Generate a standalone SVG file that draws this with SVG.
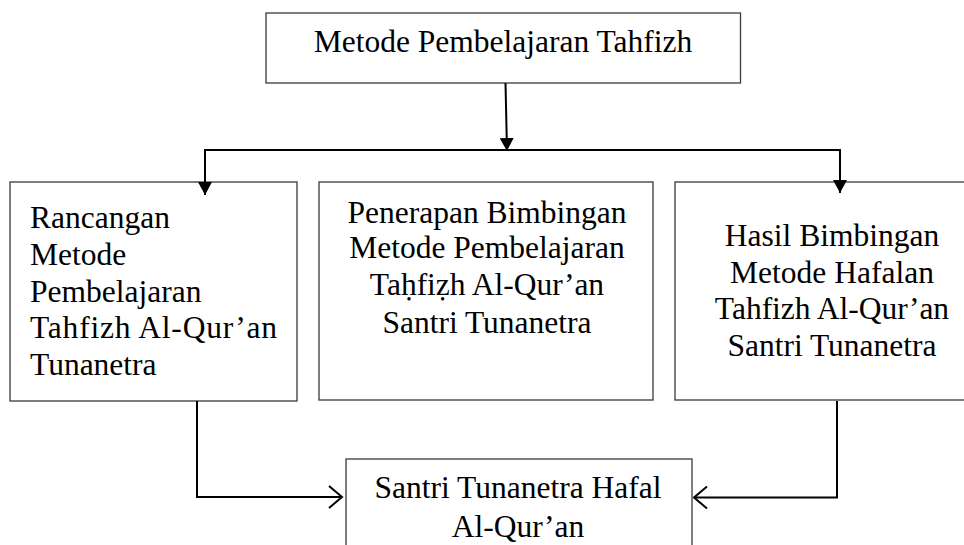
<svg xmlns="http://www.w3.org/2000/svg" width="964" height="545" viewBox="0 0 964 545">
<style>
.box{fill:#fff;stroke:#3a3a3a;stroke-width:1.3}
.t{font-family:"Liberation Serif","DejaVu Serif",serif;font-size:31.5px;fill:#000}
.c{text-anchor:middle}
.ln{fill:none;stroke:#000;stroke-width:2}
</style>
<defs>
<marker id="fill" markerWidth="16" markerHeight="14" refX="13" refY="7" orient="auto" markerUnits="userSpaceOnUse">
<path d="M0,0 L13,7 L0,14 Z" fill="#000"/>
</marker>
<marker id="open" markerWidth="16" markerHeight="24" refX="14" refY="12" orient="auto" markerUnits="userSpaceOnUse">
<path d="M1,1 L14,12 L1,23" fill="none" stroke="#000" stroke-width="2"/>
</marker>
</defs>
<rect width="964" height="545" fill="#fff"/>
<g id="top">
<rect class="box" x="266" y="13" width="474.5" height="70"/>
<text class="t c" x="503" y="52">Metode Pembelajaran Tahfizh</text>
</g>
<g id="left">
<rect class="box" x="10" y="182" width="287" height="219"/>
<text class="t" x="30" y="228">Rancangan</text>
<text class="t" x="30" y="264.5">Metode</text>
<text class="t" x="30" y="301.5">Pembelajaran</text>
<text class="t" x="30" y="338" textLength="247" lengthAdjust="spacing">Tahfizh  Al-Qur’an</text>
<text class="t" x="30" y="375">Tunanetra</text>
</g>
<g id="middle">
<rect class="box" x="319" y="182" width="334" height="218"/>
<text class="t c" x="487" y="223">Penerapan Bimbingan</text>
<text class="t c" x="487" y="257.5">Metode Pembelajaran</text>
<text class="t c" x="487" y="294.5">Taḥfiẓh Al-Qur’an</text>
<text class="t c" x="487" y="332.5">Santri Tunanetra</text>
</g>
<g id="right">
<rect class="box" x="675" y="182" width="290" height="218"/>
<text class="t c" x="832" y="246">Hasil Bimbingan</text>
<text class="t c" x="832" y="282.5">Metode Hafalan</text>
<text class="t c" x="832" y="319">Tahfizh Al-Qur’an</text>
<text class="t c" x="832" y="356">Santri Tunanetra</text>
</g>
<g id="bottom">
<rect class="box" x="346" y="459" width="346" height="100"/>
<text class="t c" x="518" y="498">Santri Tunanetra Hafal</text>
<text class="t c" x="518" y="536.5">Al-Qur’an</text>
</g>
<g id="connectors">
<line class="ln" x1="505.5" y1="83" x2="507" y2="151" marker-end="url(#fill)"/>
<line class="ln" x1="204" y1="150" x2="841" y2="150"/>
<line class="ln" x1="205" y1="150" x2="205" y2="195" marker-end="url(#fill)"/>
<line class="ln" x1="840" y1="150" x2="840" y2="193" marker-end="url(#fill)"/>
<polyline class="ln" points="197,401 197,497 342,497" marker-end="url(#open)"/>
<polyline class="ln" points="837,401 837,497.5 694,497.5" marker-end="url(#open)"/>
</g>
</svg>
